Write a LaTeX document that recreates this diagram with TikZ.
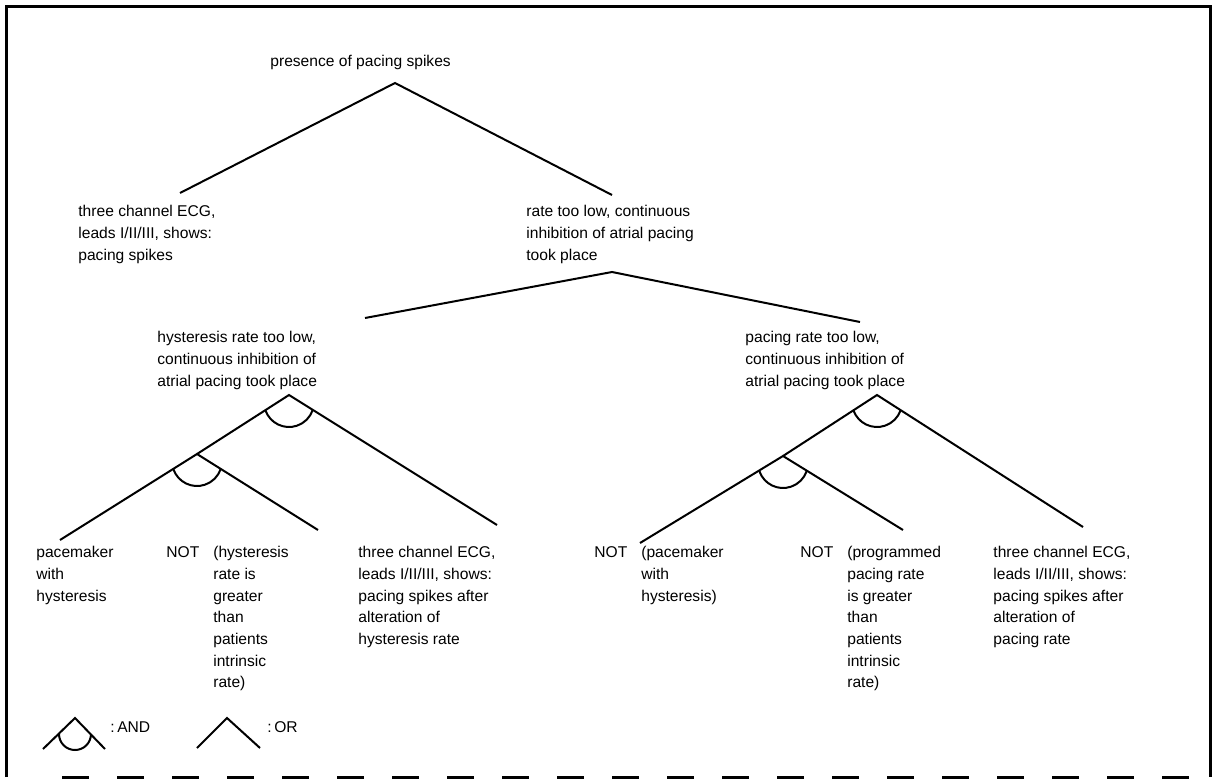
\documentclass[tikz,border=0pt]{standalone}
\usepackage{fontspec}
\setmainfont{Liberation Sans}
\usetikzlibrary{calc}
\begin{document}
\begin{tikzpicture}[x=0.5pt,y=-0.5pt,
  lbl/.style={anchor=north west, inner sep=0pt, align=left,
              font=\fontsize{7.8pt}{10.85pt}\selectfont},
  edge/.style={line width=1pt, line join=miter},
  frame/.style={line width=1.5pt}]
\useasboundingbox (0,0) rectangle (1218,781);

% outer frame, dashed along the bottom
\draw[frame] (6,777) -- (6,7) -- (1210,7) -- (1210,777);
\draw[frame, dash pattern=on 13.5pt off 14pt] (62,777) -- (1210,777);

% statements
\node[lbl] (root) at (270,55) {presence of pacing spikes};
\node[lbl] (ecgA) at (78,205) {three channel ECG,\\leads I/II/III, shows:\\pacing spikes};
\node[lbl] (low)  at (526,205) {rate too low, continuous\\inhibition of atrial pacing\\took place};
\node[lbl] (hyst) at (157,331) {hysteresis rate too low,\\continuous inhibition of\\atrial pacing took place};
\node[lbl] (pace) at (745,331) {pacing rate too low,\\continuous inhibition of\\atrial pacing took place};

\node[lbl] (pm)   at (36,546) {pacemaker\\with\\hysteresis};
\node[lbl] (nhr)  at (166,542) {\begin{tabular}{@{}l@{\hspace{7pt}}l@{}}NOT & (hysteresis\\ & rate is\\ & greater\\ & than\\ & patients\\ & intrinsic\\ & rate)\end{tabular}};
\node[lbl] (ecgB) at (358,546) {three channel ECG,\\leads I/II/III, shows:\\pacing spikes after\\alteration of\\hysteresis rate};

\node[lbl] (npm)  at (594,542) {\begin{tabular}{@{}l@{\hspace{7pt}}l@{}}NOT & (pacemaker\\ & with\\ & hysteresis)\end{tabular}};
\node[lbl] (npr)  at (800,542) {\begin{tabular}{@{}l@{\hspace{7pt}}l@{}}NOT & (programmed\\ & pacing rate\\ & is greater\\ & than\\ & patients\\ & intrinsic\\ & rate)\end{tabular}};
\node[lbl] (ecgC) at (993,546) {three channel ECG,\\leads I/II/III, shows:\\pacing spikes after\\alteration of\\pacing rate};

% branch points and branch ends
\coordinate (j0) at (395,83);
\coordinate (e0a) at (180,193);
\coordinate (e0b) at (612,195);
\coordinate (j1) at (612,272);
\coordinate (e1a) at (365,318);
\coordinate (e1b) at (860,322);
\coordinate (j2) at (289,395);
\coordinate (j3) at (197,454);
\coordinate (e2b) at (497,525);
\coordinate (e3a) at (60,540);
\coordinate (e3b) at (318,530);
\coordinate (j4) at (877,395);
\coordinate (j5) at (783,456);
\coordinate (e4b) at (1083,527);
\coordinate (e5a) at (640,543);
\coordinate (e5b) at (903,530);

% OR branchings
\draw[edge] (e0a) -- (j0) -- (e0b);
\draw[edge] (e1a) -- (j1) -- (e1b);
% AND branchings
\draw[edge] (j3) -- (j2) -- (e2b);
\draw[edge] (e3a) -- (j3) -- (e3b);
\draw[edge] (j5) -- (j4) -- (e4b);
\draw[edge] (e5a) -- (j5) -- (e5b);
\foreach \j in {j2,j3,j4,j5}
  \draw[edge] ($(\j)+(0,7)$) ++(199:12.5pt) arc[start angle=199, end angle=341, radius=12.5pt];

% legend
\coordinate (la) at (75,718);
\coordinate (laL) at (43,749);
\coordinate (laR) at (105,749);
\draw[edge] (laL) -- (la) -- (laR);
\draw[edge] ($(la)+(0,16)$) ++(180:8pt) arc[start angle=180, end angle=360, radius=8pt];
\node[lbl] (andtxt) at (110,721) {:\,AND};
\coordinate (lo) at (227,718);
\coordinate (loL) at (197,748);
\coordinate (loR) at (260,748);
\draw[edge] (loL) -- (lo) -- (loR);
\node[lbl] (ortxt) at (267,721) {:\,OR};
\end{tikzpicture}
\end{document}
